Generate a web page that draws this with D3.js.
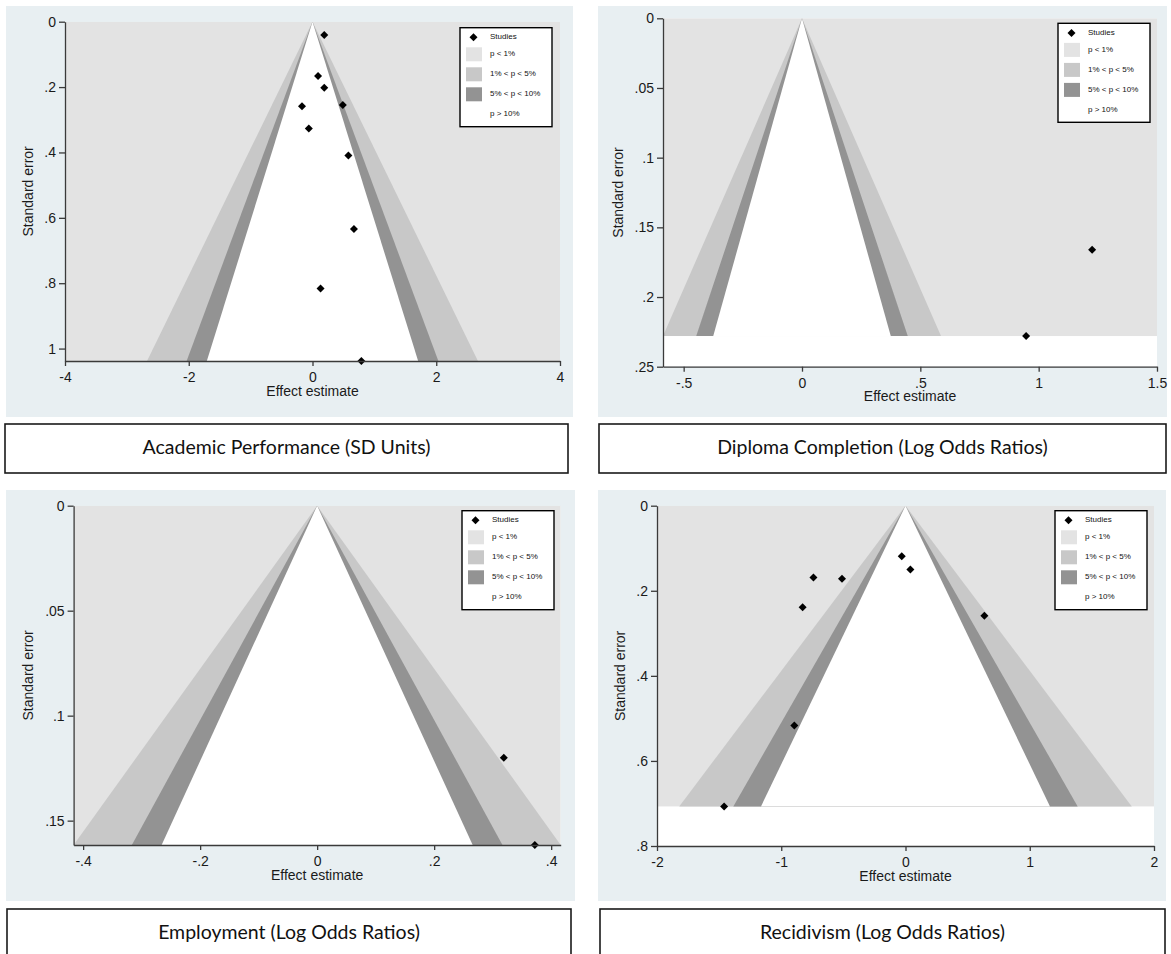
<!DOCTYPE html>
<html>
<head>
<meta charset="utf-8">
<script src="https://cdn.jsdelivr.net/npm/d3@7"></script>
<style>
  body { margin: 0; background: #fff; }
  svg { display: block; }
</style>
</head>
<body>
<script>
//#region data (one entry per panel)
let titles = [
  "Academic Performance (SD Units)",
  "Diploma Completion (Log Odds Ratios)",
  "Employment (Log Odds Ratios)",
  "Recidivism (Log Odds Ratios)"
];
let effects = [
  [0.19, 0.09, 0.19, -0.17, 0.49, -0.06, 0.58, 0.67, 0.13, 0.79],
  [1.226, 0.947],
  [0.319, 0.372],
  [-0.03, 0.039, -0.741, -0.511, -0.828, 0.635, -0.895, -1.46]
];
let stdErrors = [
  [0.041, 0.166, 0.202, 0.259, 0.255, 0.327, 0.409, 0.634, 0.816, 1.038],
  [0.166, 0.228],
  [0.12, 0.1616],
  [0.119, 0.150, 0.169, 0.172, 0.239, 0.259, 0.517, 0.707]
];
let xTicks = [
  [-4, -2, 0, 2, 4],
  [-0.5, 0, 0.5, 1, 1.5],
  [-0.4, -0.2, 0, 0.2, 0.4],
  [-2, -1, 0, 1, 2]
];
let yTicks = [
  [0, 0.2, 0.4, 0.6, 0.8, 1],
  [0, 0.05, 0.1, 0.15, 0.2, 0.25],
  [0, 0.05, 0.1, 0.15],
  [0, 0.2, 0.4, 0.6, 0.8]
];
let xMaxes = [4, 1.5, null, 2];     // null: axis stops at the funnel edge
let yMaxes = [null, 0.25, null, 0.8]; // null: axis stops at the largest SE
let legendLabels = ["Studies", "p < 1%", "1% < p < 5%", "5% < p < 10%", "p > 10%"];
let zCuts = [2.576, 1.96, 1.645]; // 1%, 5%, 10% two-sided
//#endregion

//#region layout and styles
let W = 1171, H = 954;
let bandColors = ["#e3e3e3", "#c8c8c8", "#939393", "#ffffff"];
let panelBg = "#e8eff2";
let layout = [
  { bg: [6, 6, 567, 411],   plot: [65, 21.7, 560, 361],   legend: [460, 27.7],  yTitleX: 29.7,  box: [5, 424, 563, 49] },
  { bg: [598, 6, 569, 411], plot: [663, 18.3, 1157, 366.7], legend: [1058, 23.3], yTitleX: 618.8, box: [599, 424, 567, 49] },
  { bg: [6, 490, 569, 411], plot: [73.6, 505.7, 560.7, 845], legend: [462, 510.7], yTitleX: 29.7, box: [7, 909, 564, 49] },
  { bg: [598, 490, 568, 411], plot: [657, 505.7, 1154, 846], legend: [1055, 510.7], yTitleX: 621.4, box: [600, 909, 565, 49] }
];
let axisFont = "'Liberation Sans', Arial, sans-serif";
//#endregion

let svg = d3.select("body").append("svg")
  .attr("width", W)
  .attr("height", H);

// Stata style labels: ".2", "-.5", "1.5"
function stataFmt(v) {
  let s = String(+v.toFixed(4));
  return s.replace(/^(-?)0\./, "$1.");
}

let diamond = d3.symbol().type(d3.symbolSquare).size(32);

titles.forEach((title, i) => {
  let L = layout[i];
  let g = svg.append("g");

  // panel background
  g.append("rect")
    .attr("x", L.bg[0]).attr("y", L.bg[1])
    .attr("width", L.bg[2]).attr("height", L.bg[3])
    .attr("fill", panelBg);

  let seMax = d3.max(stdErrors[i]);
  let xHi = xMaxes[i] == null ? zCuts[0] * seMax : xMaxes[i];
  let yHi = yMaxes[i] == null ? seMax : yMaxes[i];
  let xLo = xMaxes[i] == null ? -xHi : Math.min(-zCuts[0] * seMax, -xHi);
  if (i === 1) xLo = -zCuts[0] * seMax;

  let [x0, y0, x1, y1] = L.plot;
  let xScale = d3.scaleLinear().domain([xLo, xHi]).range([x0, x1]);
  let yScale = d3.scaleLinear().domain([0, yHi]).range([y0, y1]);

  // clip for the funnel bands
  let clipId = "clip" + i;
  g.append("clipPath").attr("id", clipId)
    .append("rect")
    .attr("x", x0).attr("y", y0)
    .attr("width", x1 - x0).attr("height", y1 - y0);

  let plot = g.append("g").attr("clip-path", `url(#${clipId})`);
  plot.append("rect")
    .attr("x", x0).attr("y", y0)
    .attr("width", x1 - x0).attr("height", y1 - y0)
    .attr("fill", "#fff");
  // p < 1% region: everything above the largest SE
  plot.append("rect")
    .attr("x", x0).attr("y", yScale(0))
    .attr("width", x1 - x0).attr("height", yScale(seMax) - yScale(0))
    .attr("fill", bandColors[0]);

  // the contour triangles
  let line = d3.line().x(d => xScale(d[0])).y(d => yScale(d[1]));
  zCuts.forEach((z, k) => {
    plot.append("path")
      .attr("d", line([[-z * seMax, seMax], [0, 0], [z * seMax, seMax]]) + "Z")
      .attr("fill", bandColors[k + 1]);
  });

  // studies
  g.selectAll(".pt").data(effects[i].map((e, j) => [e, stdErrors[i][j]]))
    .join("path")
    .attr("d", diamond)
    .attr("transform", d => `translate(${xScale(d[0])},${yScale(d[1])}) rotate(45)`)
    .attr("fill", "#000");

  // axes
  let yAxis = d3.axisLeft(yScale)
    .tickValues(yTicks[i])
    .tickFormat(stataFmt)
    .tickSize(6).tickPadding(3).tickSizeOuter(0);
  let yAxisG = g.append("g")
    .attr("transform", `translate(${x0},0)`)
    .call(yAxis);
  let xAxis = d3.axisBottom(xScale)
    .tickValues(xTicks[i])
    .tickFormat(stataFmt)
    .tickSize(5).tickPadding(6).tickSizeOuter(0);
  let xAxisG = g.append("g")
    .attr("transform", `translate(0,${y1})`)
    .call(xAxis);
  [xAxisG, yAxisG].forEach(a => {
    a.selectAll("path, line").attr("stroke", "#3a3a3a").attr("stroke-width", 1.3);
    a.selectAll("text")
      .attr("fill", "#1a1a1a")
      .style("font-family", axisFont)
      .style("font-size", "14px");
  });

  // axis titles
  g.append("text")
    .attr("transform", `translate(${L.yTitleX},${(y0 + y1) / 2}) rotate(-90)`)
    .attr("text-anchor", "middle")
    .attr("dominant-baseline", "middle")
    .style("font-family", axisFont)
    .style("font-size", "14px")
    .attr("fill", "#1a1a1a")
    .text("Standard error");
  g.append("text")
    .attr("x", (x0 + x1) / 2)
    .attr("y", y1 + 31)
    .attr("text-anchor", "middle")
    .attr("dominant-baseline", "middle")
    .style("font-family", axisFont)
    .style("font-size", "14px")
    .attr("fill", "#1a1a1a")
    .text("Effect estimate");

  // legend
  let lg = g.append("g").attr("transform", `translate(${L.legend[0]},${L.legend[1]})`);
  lg.append("rect")
    .attr("width", 92).attr("height", 99)
    .attr("fill", "#fff")
    .attr("stroke", "#000")
    .attr("stroke-width", 1.4);
  let rowY = [9.6, 26.6, 46.6, 66.6, 86.6];
  lg.append("path")
    .attr("d", diamond)
    .attr("transform", `translate(13.5,${rowY[0]}) rotate(45)`)
    .attr("fill", "#000");
  [1, 2, 3].forEach(k => {
    lg.append("rect")
      .attr("x", 6).attr("y", rowY[k] - 7)
      .attr("width", 16).attr("height", 14)
      .attr("fill", bandColors[k - 1]);
  });
  lg.selectAll(".lab").data(legendLabels).join("text")
    .attr("x", 30)
    .attr("y", (d, k) => rowY[k])
    .attr("dominant-baseline", "middle")
    .style("font-family", axisFont)
    .style("font-size", "8px")
    .attr("fill", "#111")
    .text(d => d);

  // caption box below the panel
  svg.append("rect")
    .attr("x", L.box[0]).attr("y", L.box[1])
    .attr("width", L.box[2]).attr("height", L.box[3])
    .attr("fill", "#fff")
    .attr("stroke", "#1a1a1a")
    .attr("stroke-width", 1.6);
  svg.append("text")
    .attr("x", L.box[0] + L.box[2] / 2)
    .attr("y", L.box[1] + L.box[3] / 2 + 1)
    .attr("text-anchor", "middle")
    .attr("dominant-baseline", "middle")
    .style("font-family", "Lato, 'Noto Sans', sans-serif")
    .style("font-size", "19.5px")
    .attr("fill", "#111")
    .text(title);
});
</script>
</body>
</html>
